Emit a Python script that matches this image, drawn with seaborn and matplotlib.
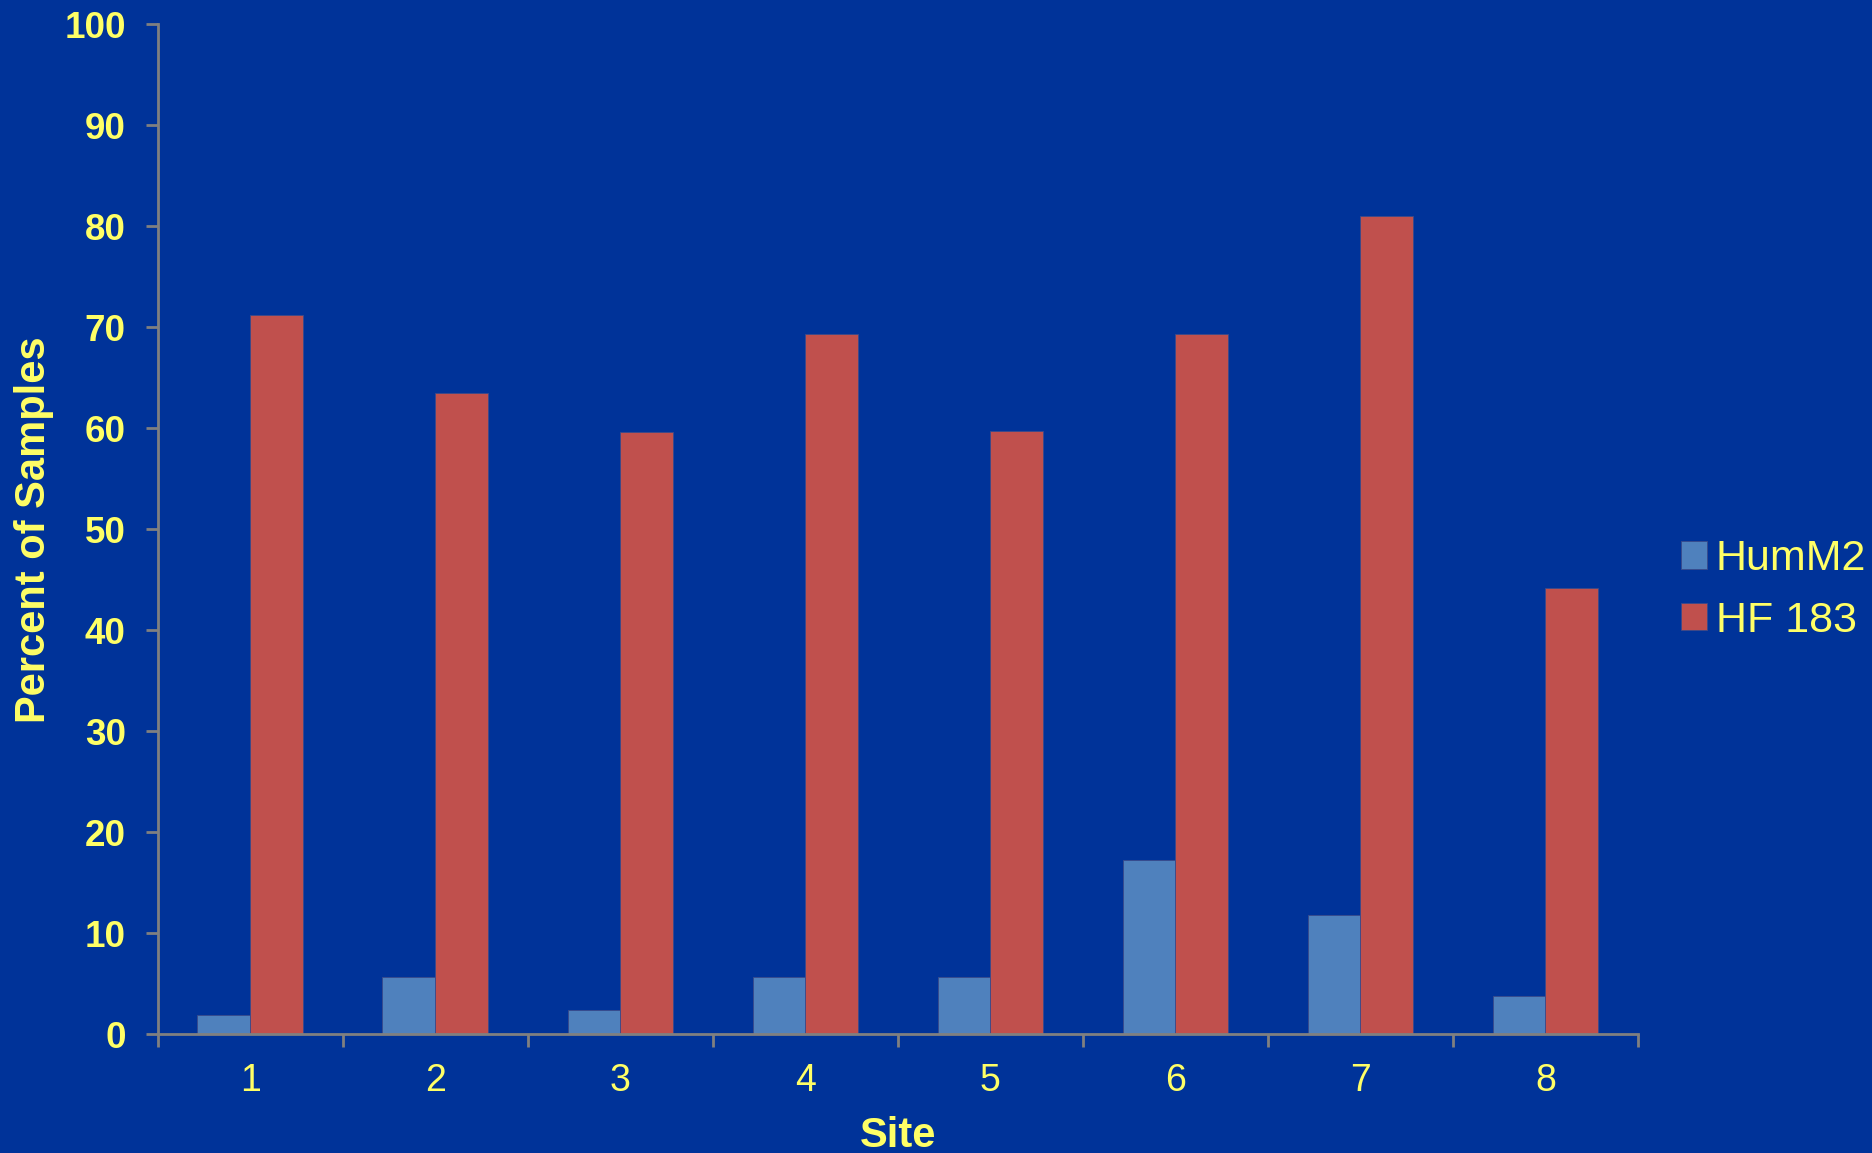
import numpy as np
import matplotlib.pyplot as plt
import seaborn as sns
import pandas as pd

sites = ["1", "2", "3", "4", "5", "6", "7", "8"]
humm2 = [1.9, 5.7, 2.4, 5.7, 5.7, 17.3, 11.8, 3.8]
hf183 = [71.2, 63.5, 59.6, 69.3, 59.7, 69.3, 81.0, 44.2]
series_names = ["HumM2", "HF 183"]

bg = "#003399"
yellow = "#FFFF66"
grey = "#808080"

df = pd.DataFrame({
    "site": sites * 2,
    "percent": humm2 + hf183,
    "marker": [series_names[0]] * len(sites) + [series_names[1]] * len(sites),
})

sns.set_style("ticks")
plt.rcParams['font.family'] = ['Liberation Sans', 'DejaVu Sans']

fig = plt.figure(figsize=(18.72, 11.53), dpi=100, facecolor=bg)
ax = fig.add_axes([0.0842, 0.103, 0.7908, 0.876])
ax.set_facecolor(bg)

sns.barplot(data=df, x="site", y="percent", hue="marker", ax=ax,
            palette=["#4F81BD", "#C0504D"], width=0.57, saturation=1,
            edgecolor="#3A4A8A", linewidth=0.6)

ax.set_ylim(0, 100)
ax.set_xlim(-0.5, len(sites) - 0.5)
ax.set_yticks(np.arange(0, 101, 10))
# ticks between the sites, labels centred under the bar pairs
ax.set_xticks(np.arange(-0.5, len(sites), 1.0), minor=True)

for s in ["top", "right"]:
    ax.spines[s].set_visible(False)
for s in ["left", "bottom"]:
    ax.spines[s].set_color(grey)
    ax.spines[s].set_linewidth(2)

ax.tick_params(axis="y", colors=grey, length=9, width=2, labelcolor=yellow,
               labelsize=26.5, pad=14)
ax.tick_params(axis="x", which="major", length=0, labelcolor=yellow,
               labelsize=27, pad=21)
ax.tick_params(axis="x", which="minor", colors=grey, length=9, width=2)
for lbl in ax.get_yticklabels():
    lbl.set_fontweight("bold")

ax.set_ylabel("Percent of Samples", color=yellow, fontsize=30, fontweight="bold", labelpad=7)
ax.set_xlabel("Site", color=yellow, fontsize=30, fontweight="bold", labelpad=12)

leg = ax.legend(loc="center left", bbox_to_anchor=(1.009, 0.44), frameon=False,
                fontsize=31, handlelength=0.6, handleheight=0.6, handletextpad=0.2,
                labelspacing=0.5, borderaxespad=0.3)
for t in leg.get_texts():
    t.set_color(yellow)

fig.savefig("out.png", dpi=100, facecolor=bg)
